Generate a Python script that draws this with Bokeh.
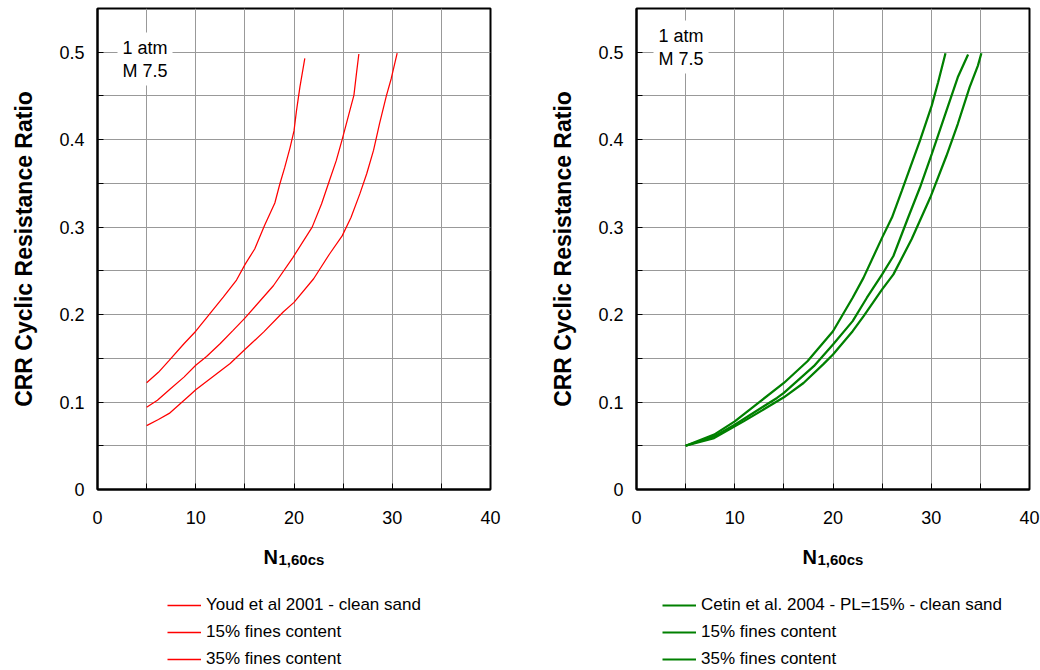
from bokeh.plotting import figure
from bokeh.models import FixedTicker, Label, Legend, LegendItem
from bokeh.layouts import row, column
from bokeh.embed import file_html
from bokeh.resources import INLINE

FONT = "Liberation Sans"

# ---------------- data ----------------
x_ticks = [0, 10, 20, 30, 40]
x_tick_labels = ["0", "10", "20", "30", "40"]
x_minor = [5, 15, 25, 35]
y_ticks = [0, 0.1, 0.2, 0.3, 0.4, 0.5]
y_tick_labels = ["0", "0.1", "0.2", "0.3", "0.4", "0.5"]
y_minor = [0.05, 0.15, 0.25, 0.35, 0.45, 0.55]

# Youd et al 2001
youd_clean_N = [5, 6.2, 7.3, 8.3, 9.5, 10, 11.5, 13.5, 15, 16.9, 18.9, 20, 22, 23.6, 24.9, 25.8, 26.7, 27.4, 28.1, 28.7, 29.4, 29.9, 30.5]
youd_clean_CRR = [0.073, 0.080, 0.087, 0.097, 0.109, 0.114, 0.127, 0.144, 0.160, 0.180, 0.203, 0.214, 0.241, 0.269, 0.290, 0.311, 0.338, 0.361, 0.388, 0.418, 0.450, 0.470, 0.499]
youd_15_N = [5, 6.1, 7.4, 8.8, 10, 11.1, 12.5, 13.8, 15, 17.9, 19.9, 21.85, 22.8, 23.6, 24.3, 24.9, 25.5, 26.1, 26.35, 26.6]
youd_15_CRR = [0.094, 0.102, 0.115, 0.1285, 0.142, 0.152, 0.167, 0.182, 0.196, 0.233, 0.2655, 0.300, 0.3265, 0.353, 0.376, 0.400, 0.4256, 0.451, 0.475, 0.498]
youd_35_N = [5, 6.2, 7.3, 8.8, 10, 11.4, 12.8, 14.15, 15.05, 16, 17, 18.05, 18.55, 19.05, 19.6, 20, 20.25, 20.6, 21.1]
youd_35_CRR = [0.122, 0.134, 0.1476, 0.1667, 0.181, 0.2006, 0.220, 0.2395, 0.258, 0.275, 0.302, 0.3276, 0.349, 0.368, 0.391, 0.410, 0.433, 0.460, 0.493]
youd_labels = ["Youd et al 2001 - clean sand", "15% fines content", "35% fines content"]

# Cetin et al. 2004
cetin_clean_N = [5, 7.9, 10.9, 15, 17, 19.05, 20, 22, 23.1, 25, 26.15, 28, 29.9, 31.55, 32.7, 33.9, 34.75, 35.1]
cetin_clean_CRR = [0.050, 0.0588, 0.0779, 0.1054, 0.1218, 0.1436, 0.1543, 0.181, 0.198, 0.2288, 0.246, 0.2861, 0.3338, 0.3816, 0.4179, 0.4599, 0.4847, 0.4989]
cetin_15_N = [5, 7.9, 10, 14.3, 15, 18.05, 20, 22, 23.45, 25, 26.15, 27.65, 28.85, 30.05, 31.55, 32.7, 33.75]
cetin_15_CRR = [0.050, 0.0607, 0.0741, 0.1047, 0.1104, 0.141, 0.1658, 0.1925, 0.2193, 0.246, 0.267, 0.311, 0.3453, 0.3835, 0.4332, 0.4713, 0.4973]
cetin_35_N = [5, 7.9, 10, 12.6, 15, 17.4, 20, 22, 23.1, 25, 26, 27, 27.8, 28.85, 30.05, 30.7, 31.45]
cetin_35_CRR = [0.050, 0.0627, 0.0779, 0.1008, 0.1218, 0.1467, 0.181, 0.2193, 0.242, 0.288, 0.311, 0.3415, 0.3663, 0.3988, 0.4389, 0.4656, 0.4989]
cetin_labels = ["Cetin et al. 2004 - PL=15% - clean sand", "15% fines content", "35% fines content"]

note_lines = ["1 atm", "M 7.5"]
x_title = "N"
x_title_sub = "1,60cs"
y_title = "CRR Cyclic Resistance Ratio"

BORDER_T = 8
FRAME_H = 481
TOP_BOTTOM = 45
FRAME_W = 393
BOTTOM_H = 135


def make_fig(border_left, border_right, series, color, lw, note_x, note_y):
    p = figure(width=border_left + FRAME_W + border_right, height=BORDER_T + FRAME_H + TOP_BOTTOM,
               x_range=(0, 40), y_range=(0, 0.55),
               output_backend="svg", toolbar_location=None,
               min_border_left=border_left, min_border_right=border_right,
               min_border_top=BORDER_T, min_border_bottom=TOP_BOTTOM)
    p.background_fill_color = "white"
    p.border_fill_color = "white"
    p.outline_line_color = "black"
    p.outline_line_width = 2

    p.xaxis.ticker = FixedTicker(ticks=x_ticks, minor_ticks=x_minor)
    p.yaxis.ticker = FixedTicker(ticks=y_ticks, minor_ticks=y_minor)
    p.xaxis.major_label_overrides = dict(zip(x_ticks, x_tick_labels))
    p.yaxis.major_label_overrides = dict(zip(y_ticks, y_tick_labels))
    for ax in (p.xaxis, p.yaxis):
        ax.axis_line_color = "black"
        ax.axis_line_width = 2
        ax.major_tick_in = 6
        ax.major_tick_out = 0
        ax.minor_tick_in = 6
        ax.minor_tick_out = 0
        ax.major_tick_line_color = "black"
        ax.minor_tick_line_color = "black"
        ax.major_label_text_font = FONT
        ax.major_label_text_font_size = "18px"
        ax.major_label_text_color = "black"
    p.xaxis.major_label_standoff = 21
    p.yaxis.major_label_standoff = 13
    p.yaxis.axis_label = y_title
    p.yaxis.axis_label_text_font = FONT
    p.yaxis.axis_label_text_font_size = "23px"
    p.yaxis.axis_label_text_font_style = "bold"
    p.yaxis.axis_label_text_color = "black"
    p.yaxis.axis_label_standoff = 19

    for g in (p.xgrid, p.ygrid):
        g.grid_line_color = "#999999"
        g.grid_line_width = 1
        g.minor_grid_line_color = "#999999"
        g.minor_grid_line_width = 1

    for xs, ys in series:
        p.line(xs, ys, line_color=color, line_width=lw)

    for i, t in enumerate(note_lines):
        p.add_layout(Label(x=note_x, y=note_y - 23 * i, x_units="screen", y_units="screen",
                           text=t, text_font=FONT, text_font_size="18px", text_color="black",
                           text_baseline="top", text_align="left",
                           background_fill_color="white", padding=5))
    return p


def make_bottom(width, series, color, lw, labels, legend_x, title_x):
    b = figure(width=width, height=BOTTOM_H, x_range=(0, 40), y_range=(1, 2),
               output_backend="svg", toolbar_location=None,
               x_axis_location=None, y_axis_location=None,
               min_border_left=0, min_border_right=0, min_border_top=0, min_border_bottom=0)
    b.outline_line_color = None
    b.xgrid.visible = False
    b.ygrid.visible = False
    b.background_fill_color = "white"
    b.border_fill_color = "white"
    items = []
    for (xs, ys), lab in zip(series, labels):
        # same series, only used as legend sources (outside this panel's view)
        r = b.line(xs, ys, line_color=color, line_width=lw)
        items.append(LegendItem(label=lab, renderers=[r]))
    legend = Legend(items=items, location=(legend_x, 0), orientation="vertical",
                    glyph_width=34, glyph_height=20, label_height=20, spacing=7,
                    padding=0, margin=0, label_standoff=5,
                    border_line_alpha=0, background_fill_alpha=0,
                    label_text_font=FONT, label_text_font_size="17px", label_text_color="black")
    b.add_layout(legend)
    b.add_layout(Label(x=title_x, y=BOTTOM_H - 22, x_units="screen", y_units="screen", text=x_title,
                       text_font=FONT, text_font_size="20px", text_font_style="bold",
                       text_color="black", text_baseline="alphabetic", text_align="left"))
    b.add_layout(Label(x=title_x + 15, y=BOTTOM_H - 25, x_units="screen", y_units="screen",
                       text=x_title_sub, text_font=FONT, text_font_size="15px",
                       text_font_style="bold", text_color="black",
                       text_baseline="alphabetic", text_align="left"))
    return b


youd_series = [(youd_clean_N, youd_clean_CRR), (youd_15_N, youd_15_CRR), (youd_35_N, youd_35_CRR)]
cetin_series = [(cetin_clean_N, cetin_clean_CRR), (cetin_15_N, cetin_15_CRR), (cetin_35_N, cetin_35_CRR)]

p1 = make_fig(97, 57, youd_series, "#ff0000", 1.25, 20, 457)
p2 = make_fig(89, 11, cetin_series, "#008000", 2.25, 17, 469)
b1 = make_bottom(p1.width, youd_series, "#ff0000", 1.3, youd_labels, 167, 263)
b2 = make_bottom(p2.width, cetin_series, "#008000", 2.0, cetin_labels, 115, 255)

layout = column(row(p1, p2), row(b1, b2))
open("out.html", "w").write(file_html(layout, INLINE))
